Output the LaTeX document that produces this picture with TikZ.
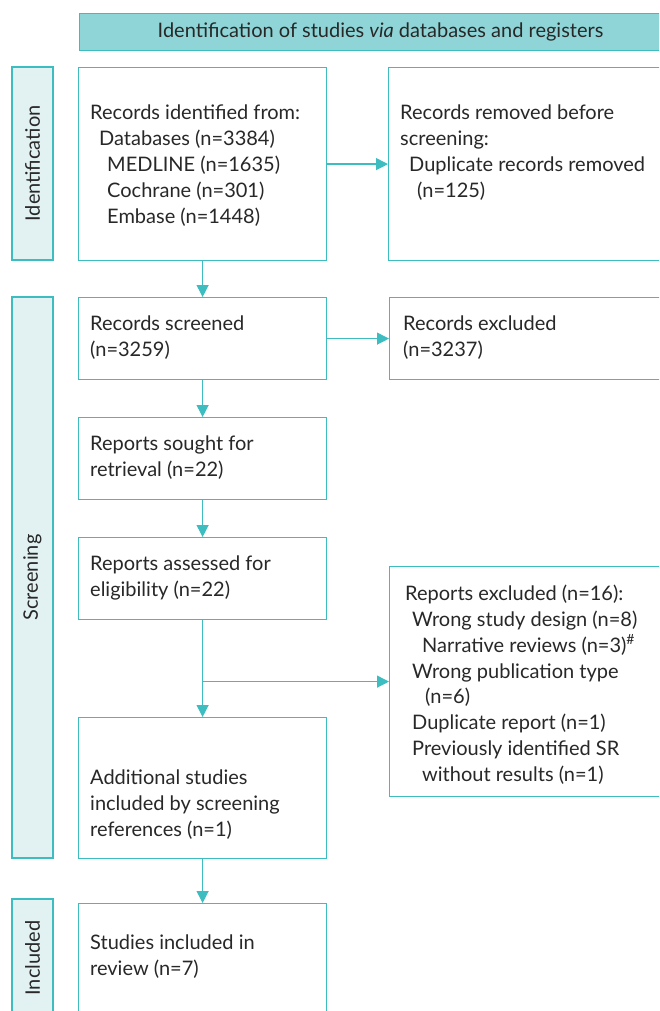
\documentclass[tikz,border=0pt]{standalone}
\usepackage{fontspec}
\setmainfont{Lato}
\usetikzlibrary{arrows.meta}
\definecolor{prismaline}{RGB}{62,189,193}
\definecolor{headfill}{RGB}{143,213,215}
\definecolor{stagefill}{RGB}{226,242,243}
\definecolor{textgray}{RGB}{40,40,40}

\begin{document}
\begin{tikzpicture}[
x=1pt, y=-1pt,
boxnode/.style={rectangle, draw=prismaline, line width=1.2pt, fill=white, anchor=north west, inner sep=0pt},
stagenode/.style={rectangle, draw=prismaline, line width=1.2pt, fill=stagefill, rotate=90, inner sep=0pt, minimum height=41pt, text=textgray, font=\fontsize{20}{26}\selectfont},
headnode/.style={rectangle, draw=prismaline, line width=1.2pt, fill=headfill, anchor=north west, inner sep=0pt, text=textgray, font=\fontsize{20}{26}\selectfont},
txtnode/.style={anchor=north west, align=left, inner sep=0pt, text=textgray, font=\fontsize{20}{25.8}\selectfont},
flow/.style={draw=prismaline, line width=1.2pt, -{Triangle[length=12pt,width=12pt]}}
]
\useasboundingbox (0,0) rectangle (659,1011);
\clip (0,0) rectangle (659,1011);
\fill[white] (0,0) rectangle (659,1011);

% header
\node[headnode, minimum width=602pt, minimum height=37pt] (head) at (79,13) {Identification of studies \emph{via} databases and registers};

% stages
\node[stagenode, minimum width=193pt] (idlab) at (32.5,163.5) {Identification};
\node[stagenode, minimum width=561pt] (scrlab) at (32.5,577.5) {Screening};
\node[stagenode, minimum width=118pt] (inclab) at (32.5,958) {Included};

% boxes
\node[boxnode, minimum width=248pt, minimum height=193pt] (ident) at (78,67) {};
\node[boxnode, minimum width=300pt, minimum height=193pt] (removed) at (388,67) {};
\node[boxnode, minimum width=248pt, minimum height=82pt] (screened) at (78,297) {};
\node[boxnode, minimum width=300pt, minimum height=82pt] (excluded) at (389,297) {};
\node[boxnode, minimum width=248pt, minimum height=82pt] (sought) at (78,417) {};
\node[boxnode, minimum width=248pt, minimum height=82pt] (assessed) at (78,537) {};
\node[boxnode, minimum width=300pt, minimum height=230pt] (repexcl) at (389,566) {};
\node[boxnode, minimum width=248pt, minimum height=141pt] (additional) at (78,717) {};
\node[boxnode, minimum width=248pt, minimum height=140pt] (included) at (78,903) {};

% texts
\node[txtnode] (identtxt) at (90,105) {Records identified from:\\
\hspace*{9pt}Databases (n=3384)\\
\hspace*{17pt}MEDLINE (n=1635)\\
\hspace*{17pt}Cochrane (n=301)\\
\hspace*{17pt}Embase (n=1448)};
\node[txtnode] (removedtxt) at (400,105) {Records removed before\\
screening:\\
\hspace*{9pt}Duplicate records removed\\
\hspace*{17pt}(n=125)};
\node[txtnode] (screenedtxt) at (90,316) {Records screened\\(n=3259)};
\node[txtnode] (excludedtxt) at (403,316) {Records excluded\\(n=3237)};
\node[txtnode] (soughttxt) at (90,436) {Reports sought for\\retrieval (n=22)};
\node[txtnode] (assessedtxt) at (90,556) {Reports assessed for\\eligibility (n=22)};
\node[txtnode] (repexcltxt) at (405,585) {Reports excluded (n=16):\\
\hspace*{7pt}Wrong study design (n=8)\\
\hspace*{17pt}Narrative reviews (n=3)\textsuperscript{\#}\\
\hspace*{7pt}Wrong publication type\\
\hspace*{20pt}(n=6)\\
\hspace*{7pt}Duplicate report (n=1)\\
\hspace*{7pt}Previously identified SR\\
\hspace*{17pt}without results (n=1)};
\node[txtnode] (additionaltxt) at (90,770) {Additional studies\\included by screening\\references (n=1)};
\node[txtnode] (includedtxt) at (90,935) {Studies included in\\review (n=7)};

\coordinate (branch) at (assessed.south |- repexcl.west);

\draw[flow] (ident) -- (removed);
\draw[flow] (ident) -- (screened);
\draw[flow] (screened) -- (excluded);
\draw[flow] (screened) -- (sought);
\draw[flow] (sought) -- (assessed);
\draw[flow] (assessed) -- (additional);
\draw[flow] (branch) -- (repexcl);
\draw[flow] (additional) -- (included);
\end{tikzpicture}
\end{document}
